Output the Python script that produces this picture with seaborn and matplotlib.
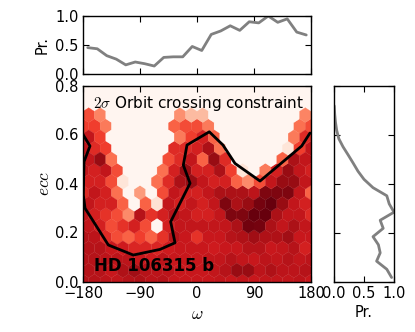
import numpy as np
import pandas as pd
import seaborn as sns
import matplotlib
matplotlib.use('Agg')
import matplotlib.pyplot as plt

# hex cell intensities, bottom row first (even rows 21 cells, odd rows 20)
row_00 = [.82,.82,.8,.78,.82,.84,.8,.82,.76,.76,.76,.76,.78,.76,.78,.76,.78,.78,.78,.8,.76]
row_01 = [.82,.82,.76,.84,.88,.82,.8,.8,.76,.76,.76,.78,.82,.9,.9,.8,.84,.8,.8,.82]
row_02 = [.82,.82,.8,.8,.8,.76,.74,.8,.76,.76,.76,.78,.78,.82,.78,.76,.8,.78,.82,.78,.8]
row_03 = [.82,.82,.76,.74,.7,.7,.7,.74,.76,.76,.76,.74,.76,.76,.82,.82,.76,.78,.82,.72,.86]
row_04 = [.82,.8,.68,.58,.52,.62,.52,.66,.82,.76,.66,.76,.76,.82,.84,.88,.84,.84,.88,.76,.76]
row_05 = [.78,.72,.58,.66,.72,.58,0,.72,.78,.78,.78,.78,.78,.85,.98,.97,.85,.78,.85,.78]
row_06 = [.78,.72,.66,.58,.4,.82,.66,.72,.82,.78,.72,.72,.78,.95,.95,1,1,.85,.78,.78,.68]
row_07 = [.78,.72,.72,.52,0,.52,.12,.78,.72,.78,.72,.78,.95,.85,.9,.97,1,.9,.78,.72]
row_08 = [.68,.78,.72,.48,0,.35,0,.58,.78,.72,.72,.78,.85,.85,.85,.8,.95,.95,.95,.78,.52]
row_09 = [.72,.72,.58,.1,0,0,.48,.68,.85,.9,.78,.72,.72,.52,.4,.58,.78,.9,.9,.78]
row_10 = [.78,.72,.78,.58,0,0,0,.48,.72,.9,.72,.72,.85,.62,.1,0,.45,.72,.9,.78,.72]
row_11 = [.78,.9,.48,0,0,0,0,.58,.68,.78,.52,.9,.68,0,0,0,0,.52,.85,.78]
row_12 = [.78,.68,.62,0,0,0,0,0,.68,.68,.72,.85,.48,0,0,0,0,0,.1,.62,.78]
row_13 = [.78,.62,0,0,0,0,0,0,.45,.62,.72,.52,0,0,0,0,0,0,.45,.68]
row_14 = [.62,.62,.45,0,0,0,0,0,.52,.58,.58,.45,0,0,0,0,0,0,0,.48,.58]
row_15 = [.58,.42,0,0,0,0,0,0,.38,.25,.25,0,0,0,0,0,0,0,0,.42]
hex_rows = [row_00, row_01, row_02, row_03, row_04, row_05, row_06, row_07,
            row_08, row_09, row_10, row_11, row_12, row_13, row_14, row_15]

# orbit crossing contour
line_omega = [-180,-169,-178.4,-179.5,-176.8,-140,-100.6,-58.4,-34.7,-41.6,-11,-21.6,-15.8,19.4,41,60,99.5,165.3,178.4]
line_ecc = [.60,.553,.489,.353,.299,.149,.108,.131,.158,.244,.401,.475,.557,.611,.557,.482,.41,.553,.606]

# marginals
omega_bins = np.arange(-172.5, 180, 15)
omega_pr = [.45,.43,.31,.25,.15,.20,.17,.13,.28,.29,.29,.47,.40,.68,.74,.83,.75,.90,.88,1,.89,.95,.72,.67]
ecc_bins = [.0163,.05,.083,.117,.15,.183,.217,.25,.283,.317,.35,.383,.417,.45,.483,.517,.55,.583,.617,.65,.683,.717]
ecc_pr = [.96,.88,.71,.77,.74,.65,.82,.77,1,.92,.88,.65,.5,.4,.32,.235,.15,.08,.045,.025,.012,.004]

sns.set_style('ticks')
plt.rcParams['font.family'] = ['DejaVu Sans']
plt.rcParams['mathtext.fontset'] = 'cm'
plt.rcParams['font.size'] = 10
plt.rcParams['xtick.direction'] = 'in'
plt.rcParams['ytick.direction'] = 'in'
plt.rcParams['xtick.top'] = True
plt.rcParams['ytick.right'] = True
plt.rcParams['axes.edgecolor'] = 'black'
plt.rcParams['xtick.color'] = 'black'
plt.rcParams['ytick.color'] = 'black'
plt.rcParams['axes.labelcolor'] = 'black'
plt.rcParams['text.color'] = 'black'

W, H = 415, 332
fig = plt.figure(figsize=(W / 100, H / 100), dpi=100)
ax = fig.add_axes([83 / W, 1 - 281.5 / H, 228 / W, 196 / H])
ax_top = fig.add_axes([83 / W, 1 - 73.5 / H, 228 / W, 57.5 / H])
ax_right = fig.add_axes([334 / W, 1 - 281.5 / H, 60 / W, 196 / H])

# hexbin lattice positions of the cells
nx, ny = 20, 9
ymax_ext = 0.815
sx = 360 / nx
sy = ymax_ext / ny
hx, hy, hc = [], [], []
for k, row in enumerate(hex_rows):
    for i, v in enumerate(row):
        hx.append(-180 + (i if k % 2 == 0 else i + .5) * sx)
        hy.append(k / 2 * sy)
        hc.append(v)

ax.set_facecolor(plt.cm.Reds(0))
ax.hexbin(hx, hy, C=hc, gridsize=(nx, ny), extent=(-180, 180, 0, ymax_ext),
          cmap='Reds', vmin=0, vmax=1, reduce_C_function=np.mean, linewidths=0.2, edgecolors='face')
df_line = pd.DataFrame({'omega': line_omega, 'ecc': line_ecc})
sns.lineplot(data=df_line, x='omega', y='ecc', sort=False, estimator=None, color='black', lw=2, ax=ax)
ax.set_xlim(-180, 180)
ax.set_ylim(0, 0.8)
ax.set_xticks([-180, -90, 0, 90, 180])
ax.set_yticks([0, .2, .4, .6, .8])
ax.set_xlabel(r'$\omega$', fontsize=12.5, labelpad=3)
ax.set_ylabel(r'$ecc$', fontsize=12.5, labelpad=2)
ax.text(-164, 0.728, r'$2\sigma$ Orbit crossing constraint', fontsize=11, va='center')
ax.text(-162, 0.065, 'HD 106315 b', fontsize=12, fontweight='bold', va='center')

sns.lineplot(x=omega_bins, y=omega_pr, color='gray', lw=2, ax=ax_top)
ax_top.set_xlim(-180, 180)
ax_top.set_ylim(0, 1)
ax_top.set_xticks([-180, -90, 0, 90, 180])
ax_top.set_xticklabels([])
ax_top.set_yticks([0, .5, 1])
ax_top.set_ylabel('Pr.', fontsize=10.5, labelpad=4)

df_right = pd.DataFrame({'ecc': ecc_bins, 'pr': ecc_pr})
sns.lineplot(data=df_right, x='pr', y='ecc', sort=False, estimator=None, color='gray', lw=2, ax=ax_right)
ax_right.set_xlim(0, 1)
ax_right.set_ylim(0, 0.8)
ax_right.set_xticks([0, .5, 1])
ax_right.set_yticks([0, .2, .4, .6, .8])
ax_right.set_yticklabels([])
ax_right.set_xlabel('Pr.', fontsize=10.5, labelpad=3)
ax_right.set_ylabel('')

for a in [ax, ax_top, ax_right]:
    a.tick_params(labelsize=10.5, length=4, width=0.8, pad=3)
    for s in a.spines.values():
        s.set_linewidth(1)
        s.set_zorder(5)

fig.savefig('out.png', dpi=100)
